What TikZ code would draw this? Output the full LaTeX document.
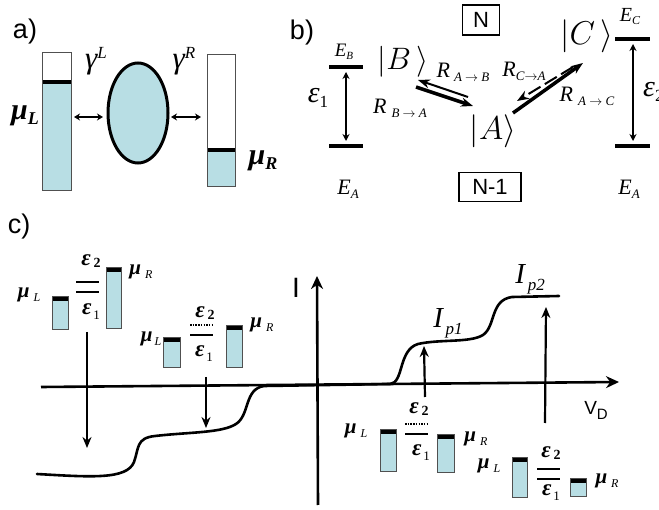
\documentclass[tikz,border=0pt]{standalone}
\usepackage{fix-cm}
\usepackage{amsmath}
\usepackage{fontspec}
\newfontfamily\arial{Liberation Sans}
\newfontfamily\tms{Liberation Serif}
\usetikzlibrary{arrows.meta,shapes.geometric}
\definecolor{lb}{RGB}{184,222,228}
\definecolor{edge}{RGB}{80,80,80}
\newcommand\minibar[4]{%
  \fill[lb] (#1,#2) rectangle (#3,#4);
  \fill[black] (#1,#2) rectangle (#3,#2+4.5);
  \draw[edge,line width=1] (#1,#2) rectangle (#3,#4);}
\newcommand\lo[3]{\raisebox{#2}{\fontsize{#1}{#1}\selectfont #3}}
\tikzset{
  sans/.style={font=\arial\fontsize{#1}{#1}\selectfont, inner sep=0},
  mth/.style={font=\fontsize{#1}{#1}\selectfont, inner sep=0},
  tmi/.style={font=\tms\itshape\fontsize{#1}{#1}\selectfont, inner sep=0},
  tmb/.style={font=\tms\bfseries\itshape\fontsize{#1}{#1}\selectfont, inner sep=0},
  lev/.style={line width=4},
  dbl/.style={line width=2, {Stealth[length=7,width=7]}-{Stealth[length=7,width=7]}},
  dbla/.style={line width=2, {Stealth[length=6,width=7]}-{Stealth[length=6,width=7]}},
  axis/.style={line width=2.6, -{Stealth[length=13,width=12]}},
  carr/.style={line width=2.2, -{Stealth[length=11,width=9]}},
  rarr/.style={line width=3.5, -{Stealth[length=12,width=9]}},
  rarrthin/.style={line width=2, -{Stealth[length=12,width=9]}},
  mini/.style={line width=1.6},
  boxn/.style={draw, line width=1.6, inner sep=0, font=\arial\fontsize{22}{22}\selectfont},
}
\begin{document}
\begin{tikzpicture}[x=1pt,y=-1pt]
\useasboundingbox (0,0) rectangle (659,510);
% ---------------- panel a
\node[sans=27] (la) at (25,32) {a)};
\fill[lb] (42,84) rectangle (71,191);
\fill[black] (42,80) rectangle (71,84.5);
\node[draw=edge, line width=1, minimum width=29, minimum height=138, inner sep=0] (barL) at (56.5,122) {};
\fill[lb] (207,152) rectangle (235,187);
\fill[black] (207,148.5) rectangle (235,152.5);
\node[draw=edge, line width=1, minimum width=28, minimum height=132, inner sep=0] (barR) at (221,121) {};
\node[ellipse, draw, line width=3, fill=lb, minimum width=60, minimum height=100, inner sep=0] (dot) at (138,113) {};
\coordinate (aL1) at (74,117);
\coordinate (aL2) at (103,117);
\coordinate (aR1) at (171,117);
\coordinate (aR2) at (201,117);
\draw[dbla] (aL1) -- (aL2);
\draw[dbla] (aR1) -- (aR2);
\node[tmb=30] (muL) at (25,116) {μ\lo{18}{-5pt}{L}};
\node[tmb=30] (muR) at (263,161) {μ\lo{18}{-5pt}{R}};
\node[tmi=31] (gL) at (96,61) {γ\lo{17}{10pt}{L}};
\node[tmi=31] (gR) at (184,61) {γ\lo{17}{10pt}{R}};
% ---------------- panel b
\node[sans=27] (lb) at (302,33) {b)};
\node[boxn, minimum width=37, minimum height=30] (N) at (481,20) {N};
\node[boxn, minimum width=62, minimum height=29] (N1) at (490,187) {N-1};
\node[tmi=19] (EB) at (344,52) {E\lo{11}{-3pt}{B}};
\coordinate (EB1) at (329,67); \coordinate (EB2) at (363,67);
\coordinate (EA1) at (329,146); \coordinate (EA2) at (363,146);
\draw[lev] (EB1) -- (EB2);
\draw[lev] (EA1) -- (EA2);
\coordinate (e1t) at (346,72); \coordinate (e1b) at (346,141);
\draw[dbl] (e1t) -- (e1b);
\node[tmi=30] (eps1) at (318,98) {ε\lo{17}{-5pt}{\upshape 1}};
\node[tmi=22] (EAl) at (348,189) {E\lo{13}{-4pt}{A}};
\node[mth=31] (kB) at (403,62) {$|B\,\rangle$};
\node[mth=33] (kA) at (493,131) {$|A\rangle$};
\node[mth=33] (kC) at (587,36) {$|C\,\rangle$};
\node[tmi=22] (RAB) at (463,72) {R\hspace{4pt}\lo{13}{-4pt}{A $\rightarrow$ B}};
\node[tmi=22] (RCA) at (524,71) {R\lo{13}{-4pt}{C$\rightarrow$A}};
\node[tmi=22] (RBA) at (400,108) {R\hspace{5pt}\lo{13}{-4pt}{B $\rightarrow$ A}};
\node[tmi=22] (RAC) at (587,96) {R\hspace{5pt}\lo{13}{-4pt}{A $\rightarrow$ C}};
% reaction arrows
\coordinate (ba1) at (468,97); \coordinate (ba2) at (418,80);
\coordinate (ab1) at (416,87); \coordinate (ab2) at (473,106);
\draw[rarrthin] (ba1) -- (ba2);
\draw[rarr] (ab1) -- (ab2);
\coordinate (ac1) at (513,113); \coordinate (ac2) at (583,63);
\coordinate (ca1) at (573,67); \coordinate (ca2) at (517,101);
\draw[rarr] (ac1) -- (ac2);
\draw[rarrthin, dash pattern=on 14 off 5] (ca1) -- (ca2);
\node[tmi=20] (EC) at (630,17) {E\lo{12}{-3pt}{C}};
\coordinate (EC1) at (615,39); \coordinate (EC2) at (650,39);
\coordinate (EA3) at (615,146); \coordinate (EA4) at (650,146);
\draw[lev] (EC1) -- (EC2);
\draw[lev] (EA3) -- (EA4);
\coordinate (e2t) at (633,44); \coordinate (e2b) at (633,141);
\draw[dbl] (e2t) -- (e2b);
\node[tmi=30, anchor=west] (eps2) at (643,92) {ε\lo{17}{-5pt}{\upshape 2}};
\node[tmi=22] (EAr) at (629,189) {E\lo{13}{-4pt}{A}};
% ---------------- panel c
\node[sans=27] (lc) at (19,227) {c)};
\coordinate (xa1) at (41,387); \coordinate (xa2) at (619,382);
\coordinate (ya1) at (318,505); \coordinate (ya2) at (317,276);
\draw[axis] (xa1) -- (xa2);
\draw[axis] (ya1) -- (ya2);
\node[sans=28] (Il) at (296,288) {I};
\node[sans=19] (VD) at (596,410) {V\raisebox{-5pt}{\fontsize{15}{15}\selectfont D}};
% I-V curve
\draw[line width=2.6, line cap=round]
  (37,474) .. controls (90,477) and (127,480) .. (134,462)
  .. controls (139,448) and (136,438) .. (155,436)
  .. controls (190,432) and (222,433) .. (236,424)
  .. controls (250,415) and (244,389) .. (264,386)
  -- (390,384)
  .. controls (404,383) and (398,350) .. (418,344)
  .. controls (440,339) and (470,343) .. (483,335)
  .. controls (496,326) and (490,300) .. (512,297)
  -- (559,296);
\node[tmi=29] (Ip1) at (448,323) {I\lo{17}{-7pt}{\,p1}};
\node[tmi=29] (Ip2) at (530,279) {I\lo{17}{-7pt}{\,p2}};
% arrows
\coordinate (c1a) at (87,332); \coordinate (c1b) at (87,448);
\coordinate (c2a) at (206,377); \coordinate (c2b) at (206,428);
\coordinate (c3a) at (425,397); \coordinate (c3b) at (424,346);
\coordinate (c4a) at (545,423); \coordinate (c4b) at (546,307);
\draw[carr] (c1a) -- (c1b);
\draw[carr] (c2a) -- (c2b);
\draw[carr] (c3a) -- (c3b);
\draw[carr] (c4a) -- (c4b);
% mini diagram 1
\minibar{52}{297}{68}{330}
\minibar{106}{268}{121}{329}
\coordinate (m1a) at (76,282); \coordinate (m1b) at (99,282);
\coordinate (m1c) at (76,292); \coordinate (m1d) at (99,292);
\draw[mini] (m1a) -- (m1b);
\draw[mini] (m1c) -- (m1d);
\node[tmb=21] (d1muL) at (29,295) {μ\hspace{4pt}\lo{12}{-4pt}{\mdseries L}};
\node[tmb=21] (d1muR) at (141,272) {μ\hspace{4pt}\lo{12}{-4pt}{\mdseries R}};
\node[tmb=23] (d1e2) at (91,261) {ε\hspace{3pt}\lo{14}{-2pt}{\upshape 2}};
\node[tmb=23] (d1e1) at (91,312) {ε\hspace{2pt}\lo{13}{-5pt}{\mdseries\upshape 1}};
% mini diagram 2
\minibar{163}{338}{180}{368}
\minibar{226}{326}{242}{368}
\coordinate (m2a) at (190,325); \coordinate (m2b) at (214,325);
\coordinate (m2c) at (190,335); \coordinate (m2d) at (213,335);
\draw[mini, dash pattern=on 1.5 off 1.2] (m2a) -- (m2b);
\draw[mini] (m2c) -- (m2d);
\node[tmb=21] (d2muL) at (151,339) {μ\hspace{2pt}\lo{12}{-4pt}{\mdseries L}};
\node[tmb=21] (d2muR) at (262,325) {μ\hspace{4pt}\lo{12}{-4pt}{\mdseries R}};
\node[tmb=23] (d2e2) at (205,313) {ε\hspace{3pt}\lo{14}{-2pt}{\upshape 2}};
\node[tmb=23] (d2e1) at (204,354) {ε\hspace{2pt}\lo{13}{-5pt}{\mdseries\upshape 1}};
% mini diagram 3
\minibar{380}{430}{396}{472}
\minibar{437}{435}{454}{473}
\coordinate (m3a) at (405,424); \coordinate (m3b) at (428,424);
\coordinate (m3c) at (405,434); \coordinate (m3d) at (428,434);
\draw[mini, dash pattern=on 1.5 off 1.2] (m3a) -- (m3b);
\draw[mini] (m3c) -- (m3d);
\node[tmb=21] (d3muL) at (356,431) {μ\hspace{4pt}\lo{12}{-4pt}{\mdseries L}};
\node[tmb=21] (d3muR) at (476,439) {μ\hspace{4pt}\lo{12}{-4pt}{\mdseries R}};
\node[tmb=23] (d3e2) at (419,409) {ε\hspace{3pt}\lo{14}{-2pt}{\upshape 2}};
\node[tmb=23] (d3e1) at (421,453) {ε\hspace{2pt}\lo{13}{-5pt}{\mdseries\upshape 1}};
% mini diagram 4
\minibar{512}{458}{527}{498}
\minibar{570}{479}{586}{497}
\coordinate (m4a) at (537,469); \coordinate (m4b) at (560,469);
\coordinate (m4c) at (537,479); \coordinate (m4d) at (560,479);
\draw[mini] (m4a) -- (m4b);
\draw[mini] (m4c) -- (m4d);
\node[tmb=21] (d4muL) at (489,466) {μ\hspace{4pt}\lo{12}{-4pt}{\mdseries L}};
\node[tmb=21] (d4muR) at (607,481) {μ\hspace{4pt}\lo{12}{-4pt}{\mdseries R}};
\node[tmb=23] (d4e2) at (551,453) {ε\hspace{3pt}\lo{14}{-2pt}{\upshape 2}};
\node[tmb=23] (d4e1) at (551,493) {ε\hspace{2pt}\lo{13}{-5pt}{\mdseries\upshape 1}};
\end{tikzpicture}
\end{document}
